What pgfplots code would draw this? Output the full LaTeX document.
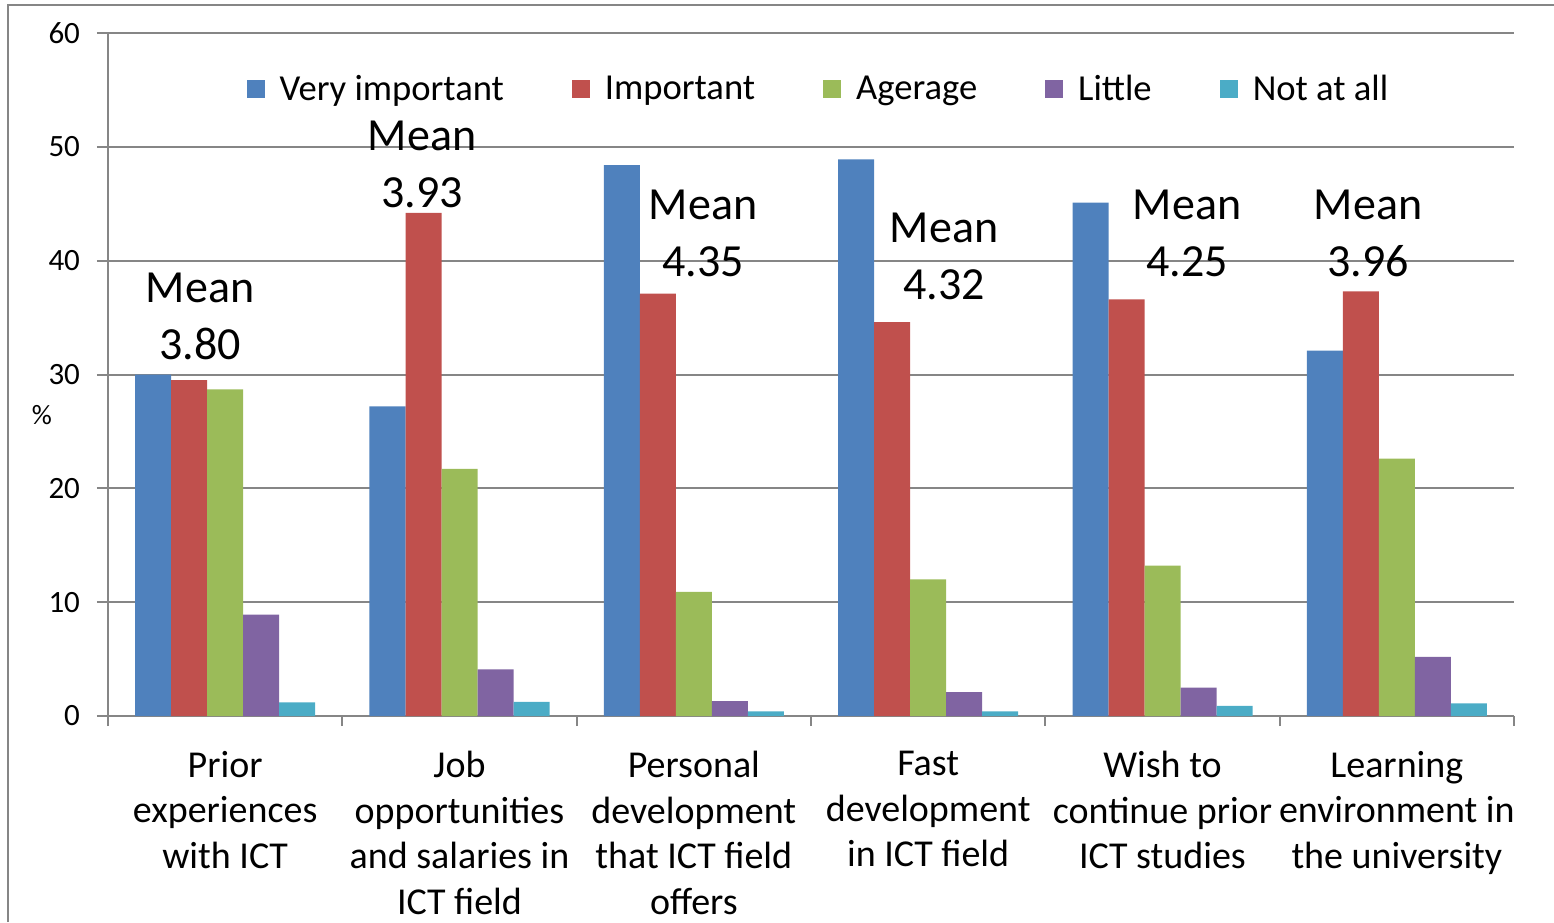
\documentclass[border=0pt]{standalone}
\usepackage{pgfplots}
\pgfplotsset{compat=1.18}
\usepackage{fontspec}
\setmainfont{Carlito}
\definecolor{c1}{HTML}{4F81BD}
\definecolor{c2}{HTML}{C0504D}
\definecolor{c3}{HTML}{9BBB59}
\definecolor{c4}{HTML}{8064A2}
\definecolor{c5}{HTML}{4BACC6}
\definecolor{gridc}{HTML}{868686}
\begin{document}
\begin{tikzpicture}
\useasboundingbox (0,0) rectangle (777pt,461pt);
\draw[gridc, line width=1pt] (4pt,0) -- (4pt,458.5pt) -- (777pt,458.5pt);
\begin{axis}[
  at={(54pt,103pt)}, anchor=south west,
  scale only axis, width=703pt, height=341.5pt,
  ybar=0pt, bar width=18pt,
  legend image code/.code={\fill[#1] (0pt,-4.5pt) rectangle (9pt,4.5pt); \path (14.5pt,0pt);},
  xmin=-0.5, xmax=5.5, ymin=0, ymax=60,
  ytick={0,10,...,60},
  xtick={0,...,5},
  xticklabels={{Prior\\experiences\\with ICT},{Job\\opportunities\\and salaries in\\ICT field},{Personal\\development\\that ICT field\\offers},{Fast\\development\\in ICT field},{Wish to\\continue prior\\ICT studies},{Learning\\environment in\\the university}},
  minor xtick={-0.5,0.5,...,5.5},
  axis x line=bottom, axis y line=left,
  axis line style={gridc, line width=1pt, -},
  ymajorgrids, grid style={gridc, line width=1pt},
  tick align=outside,
  major tick length=5.5pt, minor tick length=5pt,
  major x tick style={draw=none},
  minor x tick style={gridc, line width=1pt},
  ytick style={gridc, line width=1pt},
  /pgf/number format/assume math mode=true,
  yticklabel style={font=\fontsize{15.5}{18}\selectfont, text=black, xshift=-5pt},
  xticklabel style={font=\fontsize{19}{22.8}\selectfont, align=center, anchor=north, text=black, yshift=-8.5pt},
  legend columns=5,
  legend style={draw=none, fill=none, at={(0.506,0.918)}, anchor=center,
    font=\fontsize{18.3}{22}\selectfont, /tikz/every even column/.append style={column sep=32pt}},
  legend cell align=left,
  clip=false,
]
\addplot[fill=c1, draw=none] coordinates {(0,30.0) (1,27.2) (2,48.4) (3,48.9) (4,45.1) (5,32.1)};
\addplot[fill=c2, draw=none] coordinates {(0,29.5) (1,44.2) (2,37.1) (3,34.6) (4,36.6) (5,37.3)};
\addplot[fill=c3, draw=none] coordinates {(0,28.7) (1,21.7) (2,10.9) (3,12.0) (4,13.2) (5,22.6)};
\addplot[fill=c4, draw=none] coordinates {(0,8.9) (1,4.1) (2,1.3) (3,2.1) (4,2.5) (5,5.2)};
\addplot[fill=c5, draw=none] coordinates {(0,1.2) (1,1.25) (2,0.4) (3,0.4) (4,0.9) (5,1.1)};
\legend{Very important, Important, Agerage, Little, Not at all}
\node[align=center, font=\fontsize{23}{28.5}\selectfont] at (axis cs:-0.107,35.1) {Mean\\3.80};
\node[align=center, font=\fontsize{23}{28.5}\selectfont] at (axis cs:0.840,48.45) {Mean\\3.93};
\node[align=center, font=\fontsize{23}{28.5}\selectfont] at (axis cs:2.039,42.39) {Mean\\4.35};
\node[align=center, font=\fontsize{23}{28.5}\selectfont] at (axis cs:3.068,40.41) {Mean\\4.32};
\node[align=center, font=\fontsize{23}{28.5}\selectfont] at (axis cs:4.105,42.39) {Mean\\4.25};
\node[align=center, font=\fontsize{23}{28.5}\selectfont] at (axis cs:4.877,42.39) {Mean\\3.96};
\node[font=\fontsize{14}{17}\selectfont] at (rel axis cs:0,0.44) [xshift=-33pt] {\%};
\end{axis}
\end{tikzpicture}
\end{document}
